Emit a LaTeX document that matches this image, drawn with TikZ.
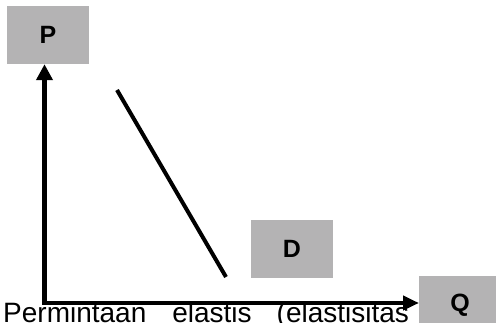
\documentclass[tikz,border=0pt]{standalone}
\usepackage{fontspec}
\setmainfont{Liberation Sans}
\usetikzlibrary{arrows.meta}

\definecolor{boxgray}{RGB}{180,179,180}

\begin{document}
\begin{tikzpicture}[
    x=1pt, y=-1pt,
    lbl/.style={
        fill=boxgray, minimum width=82pt, minimum height=58pt,
        inner sep=0pt, font=\fontsize{25}{27}\selectfont\bfseries
      },
    axis/.style={
        line width=4.5pt,
        arrows={Triangle[length=16pt,width=16pt]-Triangle[length=16pt,width=14pt]}
      },
    curve/.style={line width=4pt}
  ]
  \useasboundingbox (0,0) rectangle (496,323);

  % caption under the horizontal axis
  \node[anchor=base west, inner sep=0pt, font=\fontsize{28}{30}\selectfont]
    (caption) at (3,322.5) {Permintaan\hspace{26pt}elastis\hspace{25pt}(elastisitas};

  % gray label boxes
  \node[lbl] (pbox) at (48,35) {P};
  \node[lbl] (dbox) at (292,249) {D};
  \node[lbl, anchor=north west] (qbox) at (419,276) {Q};

  % axes
  \coordinate (origin) at (44.5,303);
  \draw[axis] (origin |- pbox.south) -- (origin) -- (origin -| qbox.west);

  % demand line
  \coordinate (d1) at (117,90);
  \coordinate (d2) at (226,277);
  \draw[curve] (d1) -- (d2);
\end{tikzpicture}
\end{document}
